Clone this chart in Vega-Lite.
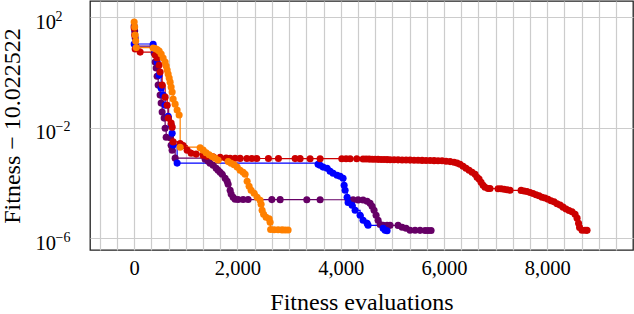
{
  "$schema": "https://vega.github.io/schema/vega-lite/v6.json",
  "width": 543,
  "height": 249,
  "autosize": "none",
  "padding": {"left": 90, "top": 1, "right": 1, "bottom": 64},
  "config": {
    "view": {"stroke": "#222222", "strokeWidth": 1.3},
    "font": "Liberation Serif",
    "axis": {"gridColor": "#cccccc", "gridWidth": 1.2, "gridOpacity": 1, "domain": false, "ticks": false, "labelColor": "#000", "titleColor": "#000", "labelFont": "Liberation Serif", "titleFont": "Liberation Serif", "titleFontWeight": "normal"}
  },
  "data": {"values": [
    {"s":"purple","x":0,"y":48.5},{"s":"purple","x":10,"y":31.9},{"s":"purple","x":20,"y":17.8},{"s":"purple","x":30,"y":9.1},
    {"s":"purple","x":368,"y":8.4},{"s":"purple","x":387,"y":5.1},{"s":"purple","x":407,"y":2.4},{"s":"purple","x":426,"y":1.46},
    {"s":"purple","x":445,"y":0.74},{"s":"purple","x":465,"y":0.352},{"s":"purple","x":503,"y":0.153},{"s":"purple","x":523,"y":0.0785},
    {"s":"purple","x":542,"y":0.0371},{"s":"purple","x":581,"y":0.0225},{"s":"purple","x":600,"y":0.0097},{"s":"purple","x":620,"y":0.0046},
    {"s":"purple","x":697,"y":0.0044},{"s":"purple","x":716,"y":0.00236},{"s":"purple","x":736,"y":0.00156},{"s":"purple","x":794,"y":0.0008},
    {"s":"purple","x":1375,"y":0.000735},{"s":"purple","x":1433,"y":0.00062},{"s":"purple","x":1471,"y":0.000526},{"s":"purple","x":1529,"y":0.000445},
    {"s":"purple","x":1588,"y":0.000347},{"s":"purple","x":1626,"y":0.000293},{"s":"purple","x":1665,"y":0.000248},{"s":"purple","x":1704,"y":0.00021},
    {"s":"purple","x":1762,"y":0.000151},{"s":"purple","x":1801,"y":0.000117},{"s":"purple","x":1820,"y":0.000091},{"s":"purple","x":1859,"y":0.000055},
    {"s":"purple","x":1878,"y":0.00004},{"s":"purple","x":1917,"y":0.0000308},{"s":"purple","x":1955,"y":0.0000261},{"s":"purple","x":2013,"y":0.0000256},
    {"s":"purple","x":2110,"y":0.0000255},{"s":"purple","x":2207,"y":0.0000254},{"s":"purple","x":2666,"y":0.0000253},{"s":"purple","x":2827,"y":0.0000252},
    {"s":"purple","x":3343,"y":0.0000251},{"s":"purple","x":3601,"y":0.000025},{"s":"purple","x":4143,"y":0.0000249},{"s":"purple","x":4240,"y":0.0000248},
    {"s":"purple","x":4337,"y":0.0000247},{"s":"purple","x":4433,"y":0.0000245},{"s":"purple","x":4511,"y":0.0000221},{"s":"purple","x":4569,"y":0.0000187},
    {"s":"purple","x":4608,"y":0.0000146},{"s":"purple","x":4646,"y":0.0000104},{"s":"purple","x":4685,"y":0.0000069},{"s":"purple","x":4724,"y":0.0000045},
    {"s":"purple","x":4763,"y":0.0000032},{"s":"purple","x":4821,"y":0.00000298},{"s":"purple","x":4898,"y":0.00000297},{"s":"purple","x":4956,"y":0.00000296},
    {"s":"purple","x":5111,"y":0.00000295},{"s":"purple","x":5189,"y":0.00000252},{"s":"purple","x":5266,"y":0.00000232},{"s":"purple","x":5343,"y":0.00000197},
    {"s":"purple","x":5440,"y":0.00000196},{"s":"purple","x":5537,"y":0.00000195},{"s":"purple","x":5634,"y":0.00000194},{"s":"purple","x":5692,"y":0.00000193},
    {"s":"purple","x":5750,"y":0.00000192},

    {"s":"blue","x":0,"y":10.8},{"s":"blue","x":368,"y":10.6},{"s":"blue","x":407,"y":5.5},{"s":"blue","x":445,"y":2.4},
    {"s":"blue","x":484,"y":0.81},{"s":"blue","x":523,"y":0.27},{"s":"blue","x":561,"y":0.153},{"s":"blue","x":600,"y":0.066},
    {"s":"blue","x":658,"y":0.026},{"s":"blue","x":716,"y":0.0125},{"s":"blue","x":736,"y":0.0064},{"s":"blue","x":755,"y":0.0024},
    {"s":"blue","x":832,"y":0.00053},{"s":"blue","x":3562,"y":0.00048},{"s":"blue","x":3601,"y":0.000445},{"s":"blue","x":3659,"y":0.00038},
    {"s":"blue","x":3736,"y":0.000347},{"s":"blue","x":3795,"y":0.00027},{"s":"blue","x":3853,"y":0.000229},{"s":"blue","x":3930,"y":0.000193},
    {"s":"blue","x":3988,"y":0.000178},{"s":"blue","x":4046,"y":0.000151},{"s":"blue","x":4066,"y":0.000084},{"s":"blue","x":4085,"y":0.000055},
    {"s":"blue","x":4124,"y":0.0000308},{"s":"blue","x":4143,"y":0.00002},{"s":"blue","x":4220,"y":0.0000158},{"s":"blue","x":4279,"y":0.0000104},
    {"s":"blue","x":4375,"y":0.0000069},{"s":"blue","x":4433,"y":0.0000045},{"s":"blue","x":4511,"y":0.0000035},{"s":"blue","x":4530,"y":0.00000298},
    {"s":"blue","x":4821,"y":0.00000232},{"s":"blue","x":4859,"y":0.00000197},{"s":"blue","x":4898,"y":0.0000019},

    {"s":"red","x":0,"y":40.9},{"s":"red","x":10,"y":22.8},{"s":"red","x":20,"y":7.1},{"s":"red","x":116,"y":5.5},
    {"s":"red","x":407,"y":4.3},{"s":"red","x":445,"y":3.35},{"s":"red","x":484,"y":1.87},{"s":"red","x":503,"y":1.04},
    {"s":"red","x":542,"y":0.352},{"s":"red","x":600,"y":0.129},{"s":"red","x":639,"y":0.066},{"s":"red","x":658,"y":0.0225},
    {"s":"red","x":716,"y":0.0148},{"s":"red","x":736,"y":0.0106},{"s":"red","x":755,"y":0.0031},{"s":"red","x":891,"y":0.0027},
    {"s":"red","x":949,"y":0.0023},{"s":"red","x":1026,"y":0.00156},{"s":"red","x":1104,"y":0.00121},{"s":"red","x":1200,"y":0.00112},
    {"s":"red","x":1336,"y":0.00103},{"s":"red","x":1413,"y":0.00094},{"s":"red","x":1529,"y":0.0009},{"s":"red","x":1665,"y":0.00086},
    {"s":"red","x":1781,"y":0.0008},{"s":"red","x":1859,"y":0.000798},{"s":"red","x":1955,"y":0.00079},{"s":"red","x":2052,"y":0.000785},
    {"s":"red","x":2182,"y":0.00078},{"s":"red","x":2278,"y":0.000778},{"s":"red","x":2375,"y":0.000776},{"s":"red","x":2600,"y":0.000774},
    {"s":"red","x":2794,"y":0.000772},{"s":"red","x":3117,"y":0.00077},{"s":"red","x":3214,"y":0.000768},{"s":"red","x":3407,"y":0.000766},
    {"s":"red","x":3601,"y":0.000764},{"s":"red","x":4021,"y":0.000762},{"s":"red","x":4104,"y":0.00076},{"s":"red","x":4182,"y":0.000758},
    {"s":"red","x":4311,"y":0.000756},{"s":"red","x":4433,"y":0.00075},{"s":"red","x":4491,"y":0.000745},{"s":"red","x":4550,"y":0.00074},
    {"s":"red","x":4608,"y":0.000735},{"s":"red","x":4666,"y":0.00073},{"s":"red","x":4724,"y":0.000725},{"s":"red","x":4782,"y":0.00072},
    {"s":"red","x":4840,"y":0.000715},{"s":"red","x":4898,"y":0.00071},{"s":"red","x":4956,"y":0.000705},{"s":"red","x":5034,"y":0.0007},
    {"s":"red","x":5111,"y":0.000695},{"s":"red","x":5189,"y":0.00069},{"s":"red","x":5266,"y":0.000685},{"s":"red","x":5343,"y":0.00068},
    {"s":"red","x":5421,"y":0.000676},{"s":"red","x":5498,"y":0.00067},{"s":"red","x":5576,"y":0.000665},{"s":"red","x":5653,"y":0.00066},
    {"s":"red","x":5731,"y":0.000655},{"s":"red","x":5808,"y":0.00065},{"s":"red","x":5885,"y":0.000645},{"s":"red","x":5963,"y":0.00064},
    {"s":"red","x":6040,"y":0.00062},{"s":"red","x":6118,"y":0.0006},{"s":"red","x":6195,"y":0.00057},{"s":"red","x":6253,"y":0.00053},
    {"s":"red","x":6311,"y":0.000484},{"s":"red","x":6369,"y":0.00041},{"s":"red","x":6427,"y":0.000347},{"s":"red","x":6486,"y":0.000293},
    {"s":"red","x":6544,"y":0.000248},{"s":"red","x":6602,"y":0.00021},{"s":"red","x":6640,"y":0.000164},{"s":"red","x":6679,"y":0.00014},
    {"s":"red","x":6718,"y":0.000108},{"s":"red","x":6757,"y":0.000084},{"s":"red","x":6795,"y":0.000071},{"s":"red","x":6853,"y":0.000064},
    {"s":"red","x":6892,"y":0.0000635},{"s":"red","x":7047,"y":0.000063},{"s":"red","x":7105,"y":0.0000625},{"s":"red","x":7163,"y":0.00006},
    {"s":"red","x":7221,"y":0.0000575},{"s":"red","x":7279,"y":0.000055},{"s":"red","x":7493,"y":0.0000545},{"s":"red","x":7551,"y":0.000052},
    {"s":"red","x":7608,"y":0.00005},{"s":"red","x":7667,"y":0.000046},{"s":"red","x":7725,"y":0.000042},{"s":"red","x":7783,"y":0.000038},
    {"s":"red","x":7841,"y":0.000035},{"s":"red","x":7899,"y":0.000031},{"s":"red","x":7957,"y":0.000029},{"s":"red","x":8015,"y":0.000026},
    {"s":"red","x":8073,"y":0.000023},{"s":"red","x":8132,"y":0.000021},{"s":"red","x":8190,"y":0.000018},{"s":"red","x":8248,"y":0.000016},
    {"s":"red","x":8306,"y":0.0000135},{"s":"red","x":8364,"y":0.0000115},{"s":"red","x":8422,"y":0.0000102},{"s":"red","x":8480,"y":0.0000092},
    {"s":"red","x":8538,"y":0.0000075},{"s":"red","x":8577,"y":0.0000054},{"s":"red","x":8606,"y":0.0000035},{"s":"red","x":8625,"y":0.0000025},
    {"s":"red","x":8673,"y":0.00000197},{"s":"red","x":8731,"y":0.00000196},{"s":"red","x":8770,"y":0.00000195},

    {"s":"orange","x":0,"y":67.6},{"s":"orange","x":10,"y":44.5},{"s":"orange","x":20,"y":22.8},{"s":"orange","x":30,"y":13.8},
    {"s":"orange","x":40,"y":8.0},{"s":"orange","x":368,"y":7.8},{"s":"orange","x":407,"y":7.4},{"s":"orange","x":445,"y":6.8},
    {"s":"orange","x":484,"y":6.0},{"s":"orange","x":523,"y":4.7},{"s":"orange","x":561,"y":3.35},{"s":"orange","x":600,"y":2.4},
    {"s":"orange","x":620,"y":1.72},{"s":"orange","x":639,"y":1.23},{"s":"orange","x":658,"y":0.88},{"s":"orange","x":678,"y":0.63},
    {"s":"orange","x":697,"y":0.45},{"s":"orange","x":716,"y":0.3},{"s":"orange","x":736,"y":0.197},{"s":"orange","x":755,"y":0.11},
    {"s":"orange","x":794,"y":0.072},{"s":"orange","x":832,"y":0.044},{"s":"orange","x":871,"y":0.029},{"s":"orange","x":891,"y":0.002},
    {"s":"orange","x":1278,"y":0.0019},{"s":"orange","x":1336,"y":0.00156},{"s":"orange","x":1394,"y":0.00126},{"s":"orange","x":1452,"y":0.00107},
    {"s":"orange","x":1510,"y":0.00091},{"s":"orange","x":1568,"y":0.0008},{"s":"orange","x":1626,"y":0.000676},{"s":"orange","x":1820,"y":0.0006},
    {"s":"orange","x":1878,"y":0.000526},{"s":"orange","x":1936,"y":0.00046},{"s":"orange","x":1994,"y":0.00038},{"s":"orange","x":2052,"y":0.000293},
    {"s":"orange","x":2110,"y":0.000248},{"s":"orange","x":2149,"y":0.00021},{"s":"orange","x":2188,"y":0.000117},{"s":"orange","x":2226,"y":0.000077},
    {"s":"orange","x":2265,"y":0.000055},{"s":"orange","x":2323,"y":0.000043},{"s":"orange","x":2381,"y":0.0000308},{"s":"orange","x":2439,"y":0.000024},
    {"s":"orange","x":2459,"y":0.0000173},{"s":"orange","x":2478,"y":0.0000104},{"s":"orange","x":2507,"y":0.0000075},{"s":"orange","x":2555,"y":0.0000058},
    {"s":"orange","x":2614,"y":0.0000051},{"s":"orange","x":2633,"y":0.0000038},{"s":"orange","x":2643,"y":0.0000021},{"s":"orange","x":2711,"y":0.00000205},
    {"s":"orange","x":2788,"y":0.00000204},{"s":"orange","x":2865,"y":0.00000203},{"s":"orange","x":2923,"y":0.00000202},{"s":"orange","x":2981,"y":0.00000201}
  ]},
  "encoding": {
    "x": {
      "field": "x", "type": "quantitative",
      "scale": {"domain": [-855, 9660], "nice": false, "zero": false},
      "axis": {
        "title": "Fitness evaluations",
        "values": [-666.667, -333.333, 0, 333.333, 666.667, 1000, 1333.333, 1666.667, 2000, 2333.333, 2666.667, 3000, 3333.333, 3666.667, 4000, 4333.333, 4666.667, 5000, 5333.333, 5666.667, 6000, 6333.333, 6666.667, 7000, 7333.333, 7666.667, 8000, 8333.333, 8666.667, 9000, 9333.333],
        "labelExpr": "abs(datum.value % 2000) < 1 ? format(datum.value, ',') : ''",
        "labelOverlap": false, "labelFlush": false,
        "labelFontSize": 20.5, "labelBaseline": "alphabetic", "labelPadding": 24,
        "titleFontSize": 24, "titleBaseline": "alphabetic", "titleY": 59.5
      }
    },
    "color": {
      "field": "s", "type": "nominal", "legend": null,
      "scale": {"domain": ["purple", "blue", "red", "orange"], "range": ["#660066", "#0000ff", "#cc0000", "#ff8000"]}
    }
  },
  "layer": [
    {
      "mark": {"type": "line", "interpolate": "step-after", "strokeWidth": 1.2},
      "encoding": {
        "y": {
          "field": "y", "type": "quantitative",
          "scale": {"type": "log", "domain": [3.8e-7, 389], "nice": false},
          "axis": {
            "orient": "left",
            "title": "Fitness − 10.022522",
            "values": [100, 0.01, 0.000001],
            "labelExpr": "'10'",
            "labelOverlap": false, "labelFlush": false,
            "labelFontSize": 20.5, "labelAlign": "left", "labelPadding": 55,
            "labelBaseline": "alphabetic", "labelOffset": 11,
            "titleFontSize": 24, "titleAngle": -90, "titleBaseline": "alphabetic",
            "titleAlign": "center", "titleX": -71, "titleY": 124.5
          }
        }
      }
    },
    {
      "mark": {"type": "circle", "size": 50, "opacity": 1},
      "encoding": {
        "y": {
          "field": "y", "type": "quantitative",
          "scale": {"type": "log", "domain": [3.8e-7, 389], "nice": false},
          "axis": {
            "orient": "left",
            "title": null,
            "grid": false,
            "values": [100, 0.01, 0.000001],
            "labelExpr": "datum.value > 1 ? '2' : (datum.value > 0.001 ? '−2' : '−6')",
            "labelOverlap": false, "labelFlush": false,
            "labelFontSize": 14, "labelAlign": "left", "labelPadding": 35,
            "labelBaseline": "alphabetic", "labelOffset": 3
          }
        }
      }
    }
  ],
  "resolve": {"axis": {"y": "independent"}}
}
